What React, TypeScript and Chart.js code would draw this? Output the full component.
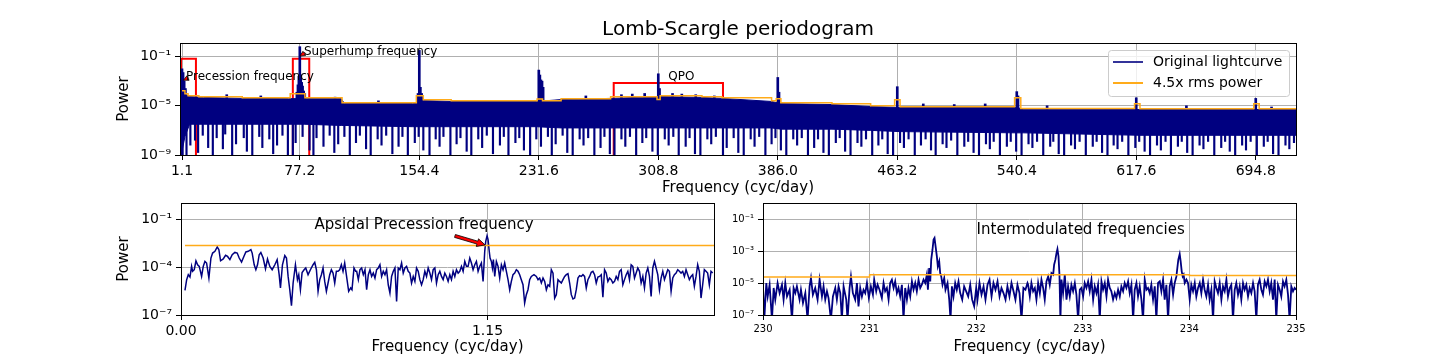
import React, { useEffect, useRef } from 'react';
import Chart from 'chart.js/auto';

const FONT = "'DejaVu Sans', 'Liberation Sans', sans-serif";
const NAVY = '#000080';
const ORANGE = '#ffab1a';
const RED = '#ff0000';
const GRID = '#b0b0b0';

Chart.defaults.font.family = FONT;
Chart.defaults.color = '#000';

// ---------------- Top panel: full periodogram ----------------
const topTitle = 'Lomb-Scargle periodogram';
const topXTicks = [1.1, 77.2, 154.4, 231.6, 308.8, 386.0, 463.2, 540.4, 617.6, 694.8];
const topXTickLabels = ['1.1', '77.2', '154.4', '231.6', '308.8', '386.0', '463.2', '540.4', '617.6', '694.8'];
const topYTicks = [1e-9, 1e-5, 1e-1];
const topYTickLabels = ['10⁻⁹', '10⁻⁵', '10⁻¹'];
const topXRange = [-0.2, 720.8];
const topYRange = [1e-9, 1.26];

// dense noise band of the periodogram: upper edge and lower (solid) edge, log10 power
const bandFreq = [-0.2, 3, 6, 15, 40, 70, 80, 104, 106, 150, 157, 175, 230, 246, 278, 310, 337, 350, 382, 388, 421, 446, 465, 540, 545, 620, 720.8];
const bandTopLog = [-3.3, -4.1, -4.25, -4.32, -4.4, -4.42, -4.42, -4.42, -4.82, -4.82, -4.58, -4.65, -4.65, -4.5, -4.4, -4.25, -4.32, -4.4, -4.65, -4.82, -4.9, -5.06, -5.14, -5.14, -5.28, -5.3, -5.3];
const bandFloorLog = [-9.5, -7.5, -6.5, -6.5, -6.5, -6.5, -6.5, -6.6, -6.6, -6.7, -6.7, -6.7, -6.7, -6.8, -6.8, -6.8, -6.8, -6.8, -6.8, -6.9, -6.9, -7.0, -7.1, -7.2, -7.2, -7.4, -7.4];

// narrow peaks rising above the band [freq, log10 power]
const topPeaks: [number, number][] = [
  [0.5, -2.4], [1.1, -2.0], [1.8, -2.3], [2.5, -3.0], [3.3, -3.6], [30, -4.1], [52, -4.2],
  [75.3, -3.9], [76.0, -3.3], [76.6, -2.6], [77.2, -0.2], [77.8, -2.5], [78.4, -3.1], [79.0, -3.4], [79.7, -3.8], [80.4, -4.0],
  [100, -4.3], [128, -4.6], [153.6, -4.0], [154.4, -0.5], [155.1, -3.5], [155.9, -4.0],
  [231.6, -2.1], [232.3, -2.5], [233.0, -2.9], [233.7, -3.0], [234.4, -3.5],
  [262, -4.2], [285, -4.1], [292, -4.05], [300, -4.0], [308.8, -2.4], [309.6, -3.6], [318, -4.0], [324, -4.05], [333, -4.1], [345, -4.2],
  [386.0, -2.7], [386.8, -3.9], [463.2, -3.45], [480, -4.85], [500, -4.9], [520, -4.85], [540.4, -3.85], [541.2, -4.2],
  [560, -5.0], [617.6, -4.35], [650, -5.0], [694.8, -4.4], [705, -5.1],
];

// deep dips below the solid band [freq, log10 power]
const topDips: [number, number][] = [
  [1.5, -9.5], [4.0, -9.3], [6.5, -8.2], [9.5, -7.8], [11.5, -8.8], [14.5, -7.4], [18.0, -8.4], [21.0, -9.2], [23.5, -7.6], [27.5, -8.5],
  [29.0, -7.3], [33.5, -9.0], [36.0, -8.1], [41.0, -7.6], [43.0, -8.7], [46.5, -9.3], [51.0, -7.5], [53.0, -8.4], [57.5, -7.7], [60.0, -8.9],
  [62.5, -8.2], [66.0, -7.4], [69.5, -9.1], [72.7, -9.5], [74.5, -8.0], [79.0, -7.5], [83.5, -8.6], [86.0, -9.3], [88.0, -7.6], [92.5, -8.3],
  [96.5, -7.4], [99.5, -8.8], [102.0, -8.1], [106.0, -7.5], [109.5, -9.2], [113.5, -8.0], [116.0, -7.4], [120.0, -8.5], [123.0, -9.4], [127.5, -7.7],
  [130.0, -8.2], [133.0, -7.4], [137.0, -8.9], [141.0, -8.3], [143.5, -7.5], [147.0, -9.3], [151.5, -8.0], [154.0, -7.5], [157.0, -8.6], [161.0, -9.1],
  [165.0, -7.7], [167.5, -8.3], [170.0, -7.5], [174.5, -9.4], [178.5, -8.1], [181.0, -7.6], [185.0, -8.7], [188.0, -9.2], [192.5, -7.7], [195.0, -8.4],
  [198.0, -7.4], [202.0, -8.9], [206.5, -8.2], [209.0, -7.5], [212.0, -9.3], [216.5, -8.0], [219.0, -7.6], [222.0, -8.6], [226.0, -9.4], [230.0, -7.7],
  [233.0, -8.3], [237.5, -7.5], [240.0, -9.0], [242.5, -8.1], [247.0, -7.4], [250.0, -8.8], [253.5, -9.5], [258.0, -7.7], [260.5, -8.2], [263.5, -7.6],
  [267.5, -9.1], [271.5, -8.4], [274.0, -7.5], [277.5, -8.9], [280.5, -9.5], [285.0, -7.7], [287.5, -8.3], [290.5, -7.5], [294.5, -9.2], [298.5, -8.0],
  [301.0, -7.6], [305.0, -8.7], [308.5, -9.4], [313.0, -7.7], [315.5, -8.2], [318.5, -7.5], [322.0, -9.0], [326.5, -8.3], [329.0, -7.6], [332.5, -8.9],
  [336.0, -9.3], [340.5, -7.7], [343.0, -8.1], [346.0, -7.5], [350.6, -9.5], [353.0, -8.4], [357.5, -7.6], [360.5, -8.8], [364.0, -9.2], [368.5, -7.7],
  [371.0, -8.3], [374.0, -7.5], [378.0, -9.0], [382.0, -8.1], [384.5, -7.6], [388.0, -8.6], [391.5, -9.4], [396.0, -7.7], [398.5, -8.2], [401.5, -7.6],
  [405.5, -9.1], [409.5, -8.4], [412.0, -7.7], [415.5, -8.8], [419.0, -9.3], [423.5, -8.0], [426.0, -7.6], [429.5, -8.7], [433.0, -9.2], [437.5, -8.0],
  [440.0, -8.3], [443.0, -7.7], [447.0, -9.0], [451.0, -8.2], [453.5, -7.7], [457.0, -8.9], [460.5, -9.4], [465.0, -8.0], [467.5, -8.4], [470.5, -7.7],
  [474.5, -9.1], [478.5, -8.2], [481.5, -7.7], [485.0, -8.6], [488.0, -9.3], [492.5, -8.1], [495.0, -8.4], [498.0, -7.8], [502.0, -9.0], [506.5, -8.3],
  [509.0, -7.9], [512.5, -8.8], [516.0, -9.4], [520.5, -8.1], [523.0, -8.5], [525.5, -7.9], [529.5, -9.2], [534.0, -8.3], [536.5, -7.9], [540.0, -8.7],
  [543.5, -9.3], [548.0, -8.1], [550.5, -8.4], [553.5, -7.9], [557.5, -9.0], [562.0, -8.3], [564.0, -7.9], [567.5, -8.9], [571.0, -9.4], [575.5, -8.2],
  [578.0, -8.5], [581.0, -7.9], [585.0, -9.1], [589.5, -8.3], [592.0, -7.9], [595.5, -8.8], [599.0, -9.3], [603.0, -8.2], [605.5, -8.5], [608.5, -7.9],
  [612.5, -9.0], [617.0, -8.4], [619.5, -7.9], [623.0, -8.7], [626.5, -9.4], [631.0, -8.2], [633.5, -8.6], [636.5, -7.9], [640.0, -9.1], [644.5, -8.3],
  [647.0, -7.9], [650.5, -8.8], [654.0, -9.3], [658.5, -8.2], [661.0, -8.5], [664.0, -7.9], [668.0, -9.0], [672.5, -8.4], [675.0, -7.9], [678.0, -8.7],
  [681.5, -9.4], [686.0, -8.2], [688.5, -8.6], [691.5, -7.9], [695.5, -9.2], [700.0, -8.3], [702.5, -7.9], [706.0, -8.9], [709.5, -9.3], [714.0, -8.2],
  [716.5, -8.5], [719.5, -8.0],
];

// 4.5x rms power threshold (stepped), log10 power
const rmsFreq = [1.1, 3, 5, 12, 40, 71, 80.5, 104.5, 152.5, 157, 175, 230.5, 234, 246, 278, 308, 310, 337, 350, 382, 385, 388, 421, 446, 461.5, 465, 539, 543, 616.5, 620, 693.5, 697, 720.8];
const rmsLog = [-3.78, -4.02, -4.19, -4.27, -4.35, -4.02, -4.35, -4.76, -4.19, -4.51, -4.59, -4.45, -4.59, -4.43, -4.27, -4.5, -4.19, -4.27, -4.35, -4.59, -4.43, -4.76, -4.84, -5.0, -4.51, -5.08, -4.35, -5.22, -4.84, -5.24, -4.84, -5.24, -5.24];

// highlighted regions (frequency range, top power)
const boxFreqStart = [0.5, 72.7, 280];
const boxFreqEnd = [10.1, 83.3, 350.6];
const boxTopPower = [0.065, 0.065, 7e-4];

const legendLabels = ['Original lightcurve', '4.5x rms power'];

// ---------------- Bottom-left: apsidal precession ----------------
const apsXTicks = [0, 1.15];
const apsXTickLabels = ['0.00', '1.15'];
const apsYTicks = [1e-7, 1e-4, 1e-1];
const apsYTickLabels = ['10⁻⁷', '10⁻⁴', '10⁻¹'];
const apsXRange = [0, 2.0];
const apsYRange = [1e-7, 1];
const apsRmsFreq = [0.015, 2.0];
const apsRmsPower = [2.24e-3, 2.24e-3];
const apsidalSpectrum: [number, number][] = [
  [0.0149, -5.46], [0.0211, -4.80], [0.0273, -4.48], [0.0336, -4.63], [0.0398, -3.96], [0.0436, -4.27], [0.0498, -4.17], [0.0561, -3.61], [0.0623, -3.86], [0.0685, -3.96],
  [0.0773, -4.59], [0.0835, -3.96], [0.0898, -3.65], [0.0960, -3.75], [0.1047, -4.69], [0.1123, -3.44], [0.1186, -3.13], [0.1273, -3.02], [0.1360, -2.75], [0.1422, -2.92],
  [0.1485, -3.61], [0.1585, -3.50], [0.1672, -3.27], [0.1747, -3.34], [0.1834, -3.54], [0.1921, -3.23], [0.2021, -3.09], [0.2109, -3.13], [0.2184, -3.44], [0.2272, -3.69],
  [0.2359, -3.34], [0.2434, -3.06], [0.2522, -3.02], [0.2622, -2.92], [0.2671, -3.13], [0.2747, -3.86], [0.2809, -4.17], [0.2871, -3.86], [0.2934, -3.23], [0.2996, -3.09],
  [0.3083, -3.44], [0.3171, -4.11], [0.3246, -3.50], [0.3333, -3.96], [0.3421, -4.17], [0.3521, -3.86], [0.3608, -3.54], [0.3683, -4.48], [0.3732, -5.31], [0.3807, -3.86],
  [0.3895, -3.29], [0.3958, -3.44], [0.4019, -4.59], [0.4082, -5.42], [0.4145, -6.42], [0.4207, -5.00], [0.4294, -3.86], [0.4369, -4.79], [0.4419, -4.48], [0.4481, -5.42],
  [0.4544, -4.34], [0.4619, -4.17], [0.4681, -4.06], [0.4768, -4.48], [0.4856, -4.17], [0.4956, -3.86], [0.5019, -3.71], [0.5081, -4.17], [0.5143, -5.52], [0.5206, -4.79],
  [0.5268, -4.48], [0.5330, -4.06], [0.5393, -4.90], [0.5455, -5.52], [0.5518, -5.00], [0.5580, -4.48], [0.5642, -4.17], [0.5705, -4.38], [0.5768, -5.00], [0.5830, -4.27],
  [0.5892, -4.27], [0.5955, -4.17], [0.6017, -3.86], [0.6080, -4.27], [0.6142, -3.75], [0.6230, -4.79], [0.6292, -5.52], [0.6367, -5.31], [0.6416, -5.42], [0.6491, -4.06],
  [0.6554, -4.27], [0.6592, -4.27], [0.6654, -4.79], [0.6716, -4.17], [0.6779, -4.06], [0.6841, -4.48], [0.6904, -4.17], [0.6966, -5.42], [0.7029, -4.48], [0.7091, -4.17],
  [0.7153, -4.59], [0.7216, -4.38], [0.7278, -4.69], [0.7341, -4.17], [0.7403, -4.06], [0.7465, -3.86], [0.7528, -4.59], [0.7590, -4.27], [0.7653, -4.48], [0.7715, -4.17],
  [0.7777, -5.11], [0.7840, -5.63], [0.7902, -4.59], [0.7965, -4.27], [0.8027, -4.06], [0.8090, -6.15], [0.8152, -4.06], [0.8214, -4.17], [0.8277, -3.75], [0.8339, -4.38],
  [0.8402, -4.06], [0.8464, -3.96], [0.8526, -4.27], [0.8589, -4.38], [0.8651, -5.00], [0.8714, -4.59], [0.8776, -4.90], [0.8838, -4.06], [0.8901, -4.27], [0.8963, -4.79],
  [0.9026, -5.11], [0.9088, -4.79], [0.9150, -4.27], [0.9213, -4.59], [0.9275, -4.06], [0.9338, -4.38], [0.9400, -4.79], [0.9463, -4.17], [0.9525, -4.06], [0.9587, -5.00],
  [0.9650, -4.48], [0.9712, -4.27], [0.9775, -4.59], [0.9837, -4.79], [0.9899, -4.38], [0.9962, -4.59], [1.0024, -4.90], [1.0087, -4.48], [1.0149, -4.79], [1.0211, -4.27],
  [1.0274, -4.59], [1.0336, -4.17], [1.0399, -4.38], [1.0461, -4.27], [1.0524, -3.96], [1.0586, -4.27], [1.0648, -3.65], [1.0711, -3.96], [1.0773, -3.96], [1.0836, -3.44],
  [1.0898, -3.75], [1.0960, -4.17], [1.1023, -3.86], [1.1085, -3.65], [1.1148, -4.27], [1.1210, -3.96], [1.1272, -3.75], [1.1335, -4.90], [1.1397, -3.02], [1.1435, -2.40],
  [1.1485, -2.04], [1.1522, -2.29], [1.1560, -2.92], [1.1597, -3.44], [1.1647, -3.65], [1.1685, -4.06], [1.1722, -3.54], [1.1772, -4.59], [1.1834, -3.65], [1.1897, -3.96],
  [1.1959, -4.69], [1.2022, -3.86], [1.2084, -4.17], [1.2146, -3.75], [1.2209, -4.27], [1.2271, -4.79], [1.2334, -5.42], [1.2396, -4.90], [1.2458, -4.48], [1.2521, -4.38],
  [1.2583, -4.17], [1.2646, -4.27], [1.2708, -4.48], [1.2770, -4.79], [1.2833, -5.11], [1.2895, -6.25], [1.2958, -5.73], [1.3020, -5.42], [1.3083, -4.79], [1.3145, -4.59],
  [1.3245, -4.48], [1.3334, -4.59], [1.3397, -4.79], [1.3459, -4.69], [1.3522, -5.00], [1.3584, -4.69], [1.3647, -4.90], [1.3709, -5.42], [1.3771, -5.11], [1.3834, -5.21],
  [1.3896, -4.17], [1.3959, -4.38], [1.4021, -5.94], [1.4083, -5.73], [1.4146, -4.79], [1.4208, -4.90], [1.4271, -5.00], [1.4333, -4.79], [1.4396, -4.59], [1.4458, -4.48],
  [1.4520, -4.42], [1.4583, -5.00], [1.4645, -5.73], [1.4708, -6.00], [1.4770, -5.94], [1.4832, -5.42], [1.4895, -4.69], [1.4957, -4.54], [1.5020, -4.59], [1.5082, -4.48],
  [1.5144, -4.59], [1.5207, -5.31], [1.5269, -4.79], [1.5332, -4.59], [1.5394, -4.33], [1.5456, -4.27], [1.5519, -4.48], [1.5581, -5.00], [1.5644, -4.63], [1.5706, -4.59],
  [1.5769, -4.48], [1.5831, -5.88], [1.5893, -4.17], [1.5956, -4.38], [1.6018, -4.90], [1.6081, -4.69], [1.6143, -4.79], [1.6205, -5.00], [1.6268, -4.90], [1.6330, -4.59],
  [1.6393, -4.79], [1.6455, -4.27], [1.6517, -4.17], [1.6580, -5.11], [1.6642, -4.79], [1.6705, -4.48], [1.6767, -4.27], [1.6829, -4.79], [1.6892, -3.86], [1.6954, -3.96],
  [1.7017, -4.69], [1.7079, -4.38], [1.7141, -4.06], [1.7204, -4.27], [1.7266, -5.00], [1.7329, -4.59], [1.7391, -5.31], [1.7454, -4.38], [1.7516, -4.06], [1.7578, -4.59],
  [1.7641, -5.84], [1.7703, -4.06], [1.7766, -3.65], [1.7828, -4.06], [1.7890, -4.48], [1.7953, -5.42], [1.8015, -4.69], [1.8078, -4.27], [1.8140, -4.79], [1.8202, -4.48],
  [1.8265, -4.17], [1.8327, -4.27], [1.8390, -5.52], [1.8452, -4.69], [1.8514, -4.48], [1.8577, -4.38], [1.8639, -4.17], [1.8702, -4.27], [1.8764, -4.38], [1.8826, -4.27],
  [1.8889, -4.59], [1.8951, -4.17], [1.9014, -4.48], [1.9076, -4.79], [1.9138, -4.59], [1.9201, -4.48], [1.9263, -5.21], [1.9326, -4.59], [1.9388, -3.86], [1.9450, -4.27],
  [1.9513, -5.94], [1.9575, -5.11], [1.9638, -4.17], [1.9700, -4.27], [1.9762, -4.38], [1.9825, -5.11], [1.9887, -4.27], [1.9950, -4.38],
];

// ---------------- Bottom-right: intermodulated frequencies ----------------
const intXTicks = [230, 231, 232, 233, 234, 235];
const intXTickLabels = ['230', '231', '232', '233', '234', '235'];
const intYTicks = [1e-7, 1e-5, 1e-3, 1e-1];
const intYTickLabels = ['10⁻⁷', '10⁻⁵', '10⁻³', '10⁻¹'];
const intXRange = [230, 235];
const intYRange = [1e-7, 1];
const intRmsFreq = [230, 231, 234, 235];
const intRmsPower = [2.37e-5, 3.3e-5, 2.9e-5, 2.9e-5];
const intermodSpectrum: [number, number][] = [
  [230.000, -5.21], [230.012, -7.3], [230.031, -5.00], [230.044, -5.84], [230.062, -5.11], [230.084, -7.3], [230.100, -5.31], [230.115, -6.04], [230.137, -5.00], [230.156, -5.63],
  [230.178, -5.11], [230.193, -6.04], [230.209, -5.00], [230.225, -5.84], [230.250, -5.42], [230.272, -7.3], [230.287, -5.31], [230.303, -5.63], [230.318, -5.21], [230.343, -6.04],
  [230.356, -5.42], [230.375, -6.25], [230.397, -5.63], [230.418, -7.3], [230.437, -5.21], [230.450, -4.69], [230.468, -5.73], [230.490, -5.31], [230.512, -6.04], [230.531, -4.79],
  [230.553, -5.84], [230.568, -5.21], [230.584, -6.04], [230.600, -5.52], [230.615, -5.94], [230.637, -7.3], [230.656, -5.84], [230.678, -5.31], [230.693, -6.04], [230.709, -5.21],
  [230.725, -5.63], [230.740, -7.3], [230.756, -5.21], [230.781, -6.04], [230.793, -7.3], [230.812, -5.31], [230.825, -4.59], [230.843, -5.63], [230.865, -6.04], [230.881, -5.00],
  [230.896, -6.46], [230.912, -5.31], [230.928, -5.84], [230.943, -5.42], [230.959, -5.63], [230.975, -5.00], [230.993, -5.94], [231.012, -5.21], [231.031, -5.73], [231.043, -4.79],
  [231.062, -5.52], [231.075, -5.11], [231.093, -5.42], [231.115, -5.94], [231.131, -5.00], [231.146, -5.52], [231.162, -5.31], [231.178, -6.04], [231.193, -5.00], [231.209, -4.79],
  [231.225, -5.31], [231.240, -4.90], [231.256, -5.63], [231.271, -5.31], [231.287, -5.84], [231.303, -5.11], [231.318, -7.3], [231.334, -5.31], [231.350, -6.04], [231.365, -5.31],
  [231.381, -5.84], [231.397, -4.90], [231.412, -5.42], [231.428, -5.00], [231.443, -5.52], [231.459, -4.79], [231.475, -5.31], [231.490, -5.11], [231.506, -4.79], [231.522, -5.00],
  [231.537, -4.48], [231.547, -5.42], [231.559, -4.06], [231.569, -4.90], [231.578, -3.54], [231.590, -2.92], [231.600, -2.29], [231.609, -2.19], [231.619, -2.71], [231.631, -3.34],
  [231.640, -3.96], [231.653, -3.65], [231.662, -4.38], [231.672, -4.59], [231.684, -5.11], [231.700, -4.69], [231.712, -5.42], [231.731, -5.00], [231.747, -6.04], [231.759, -7.3],
  [231.772, -5.21], [231.787, -5.84], [231.803, -5.00], [231.818, -5.42], [231.834, -4.90], [231.850, -5.63], [231.869, -6.04], [231.887, -5.21], [231.906, -5.52], [231.925, -5.84],
  [231.944, -5.11], [231.962, -6.04], [231.981, -6.46], [232.000, -5.31], [232.012, -6.04], [232.031, -5.00], [232.050, -5.73], [232.069, -5.21], [232.087, -6.04], [232.106, -5.11],
  [232.125, -4.79], [232.144, -5.84], [232.162, -5.00], [232.181, -5.42], [232.200, -4.90], [232.219, -5.84], [232.237, -5.31], [232.256, -5.63], [232.275, -6.04], [232.293, -5.21],
  [232.312, -5.84], [232.331, -5.00], [232.350, -5.52], [232.368, -6.04], [232.387, -5.11], [232.406, -5.63], [232.425, -7.3], [232.443, -5.31], [232.462, -5.42], [232.481, -5.00],
  [232.487, -5.11], [232.503, -5.84], [232.518, -5.00], [232.534, -5.52], [232.550, -5.31], [232.565, -6.04], [232.581, -5.00], [232.597, -5.63], [232.612, -4.79], [232.628, -5.31],
  [232.643, -6.04], [232.659, -4.90], [232.675, -4.59], [232.690, -5.11], [232.706, -4.38], [232.722, -4.48], [232.731, -3.86], [232.743, -3.54], [232.753, -3.13], [232.762, -2.88],
  [232.772, -3.34], [232.781, -4.48], [232.790, -7.3], [232.800, -4.79], [232.815, -5.63], [232.831, -4.48], [232.847, -6.04], [232.862, -5.21], [232.878, -5.84], [232.893, -5.11],
  [232.909, -5.52], [232.925, -5.00], [232.940, -5.73], [232.956, -7.3], [232.972, -5.42], [232.987, -5.31], [233.003, -5.84], [233.018, -5.00], [233.034, -5.31], [233.050, -4.90],
  [233.065, -5.52], [233.081, -4.79], [233.097, -6.04], [233.112, -5.21], [233.128, -5.63], [233.143, -5.11], [233.159, -7.3], [233.175, -4.90], [233.190, -5.42], [233.206, -5.00],
  [233.222, -5.84], [233.237, -4.79], [233.253, -5.31], [233.268, -5.52], [233.284, -6.04], [233.300, -5.63], [233.315, -5.94], [233.331, -5.42], [233.347, -5.84], [233.362, -5.21],
  [233.378, -5.52], [233.393, -5.00], [233.409, -5.31], [233.425, -4.90], [233.440, -5.63], [233.456, -5.11], [233.472, -7.3], [233.487, -5.42], [233.503, -5.00], [233.518, -5.84],
  [233.534, -5.21], [233.550, -6.04], [233.565, -7.3], [233.581, -4.79], [233.597, -5.42], [233.612, -5.31], [233.628, -5.63], [233.643, -5.11], [233.659, -6.04], [233.675, -5.21],
  [233.690, -7.3], [233.706, -5.00], [233.722, -4.90], [233.737, -5.52], [233.753, -4.79], [233.768, -6.04], [233.784, -5.11], [233.800, -7.3], [233.815, -5.21], [233.831, -4.79],
  [233.847, -5.73], [233.862, -5.00], [233.878, -4.59], [233.887, -4.06], [233.896, -3.54], [233.909, -3.19], [233.918, -3.65], [233.928, -4.27], [233.937, -4.59], [233.946, -4.48],
  [233.956, -5.00], [233.972, -4.79], [233.987, -5.00], [234.003, -6.04], [234.018, -5.11], [234.034, -5.52], [234.050, -5.00], [234.065, -5.84], [234.081, -5.31], [234.097, -5.00],
  [234.112, -5.63], [234.128, -4.79], [234.143, -5.42], [234.159, -5.84], [234.175, -5.11], [234.190, -6.04], [234.206, -5.42], [234.222, -7.3], [234.237, -4.90], [234.253, -5.31],
  [234.268, -5.63], [234.284, -5.00], [234.300, -6.04], [234.315, -5.21], [234.331, -5.52], [234.347, -4.79], [234.362, -5.84], [234.378, -5.31], [234.393, -5.11], [234.409, -7.3],
  [234.425, -5.42], [234.440, -5.00], [234.456, -5.73], [234.472, -5.21], [234.487, -6.04], [234.503, -5.00], [234.518, -5.42], [234.534, -5.11], [234.550, -5.84], [234.565, -5.31],
  [234.581, -5.63], [234.597, -5.00], [234.612, -5.52], [234.628, -7.3], [234.643, -5.11], [234.659, -4.79], [234.675, -5.42], [234.690, -5.73], [234.706, -4.90], [234.722, -5.21],
  [234.737, -4.79], [234.753, -5.52], [234.768, -5.00], [234.784, -6.04], [234.800, -4.79], [234.815, -7.3], [234.831, -5.11], [234.847, -5.42], [234.862, -5.84], [234.878, -4.90],
  [234.893, -5.21], [234.909, -4.79], [234.925, -5.73], [234.940, -7.3], [234.956, -5.21], [234.972, -5.52], [234.987, -5.31], [235.000, -5.42],
];

// ---------------- helpers ----------------
const p10 = (v: number) => Math.pow(10, v);
const BAR_BASE = 1e-6;

function xScale(range: number[], ticks: number[], labels: string[], size: number, title: string | null, titlePad: number) {
  return {
    type: 'linear', min: range[0], max: range[1], bounds: 'data', offset: false,
    afterBuildTicks: (s: any) => { s.ticks = ticks.map((v) => ({ value: v })); },
    afterFit: (s: any) => { s.height = 45; },
    ticks: { autoSkip: false, maxRotation: 0, minRotation: 0, padding: 3, color: '#000', font: { family: FONT, size }, callback: (_v: any, i: number) => labels[i] },
    grid: { color: GRID, lineWidth: 1, tickColor: '#000', tickLength: 5, offset: false, drawTicks: true },
    border: { display: false },
    title: { display: !!title, text: title || '', color: '#000', font: { family: FONT, size: 15 }, padding: { top: 0, bottom: titlePad } },
  };
}

function yScale(range: number[], ticks: number[], labels: string[], size: number, width: number, title: string | null, titlePad: number) {
  return {
    type: 'logarithmic', min: range[0], max: range[1], bounds: 'data',
    afterBuildTicks: (s: any) => { s.ticks = ticks.map((v) => ({ value: v })); },
    afterFit: (s: any) => { s.width = width; },
    ticks: { autoSkip: false, padding: 4, color: '#000', font: { family: FONT, size }, callback: (_v: any, i: number) => labels[i] },
    grid: { color: GRID, lineWidth: 1, tickColor: '#000', tickLength: 5, drawTicks: true },
    border: { display: false },
    title: { display: !!title, text: title || '', color: '#000', font: { family: FONT, size: 15 }, padding: { top: titlePad, bottom: 0 } },
  };
}

function drawFrame(chart: any) {
  const { ctx, chartArea: a } = chart;
  ctx.save();
  ctx.strokeStyle = '#000';
  ctx.lineWidth = 1;
  ctx.strokeRect(Math.round(a.left) + 0.5, Math.round(a.top) + 0.5, Math.round(a.right - a.left), Math.round(a.bottom - a.top));
  ctx.restore();
}

function drawText(ctx: any, s: string, x: number, y: number, size: number, align: string) {
  ctx.save();
  ctx.font = `${size}px ${FONT}`;
  ctx.fillStyle = '#000';
  ctx.textAlign = align;
  ctx.textBaseline = 'middle';
  ctx.fillText(s, x, y);
  ctx.restore();
}

function drawArrow(ctx: any, x1: number, y1: number, x2: number, y2: number, shaft: number, headW: number, headL: number) {
  const dx = x2 - x1, dy = y2 - y1;
  const len = Math.hypot(dx, dy) || 1;
  const ux = dx / len, uy = dy / len;
  const px = -uy, py = ux;
  const bx = x2 - ux * headL, by = y2 - uy * headL;
  ctx.save();
  ctx.beginPath();
  ctx.moveTo(x1 + px * shaft / 2, y1 + py * shaft / 2);
  ctx.lineTo(bx + px * shaft / 2, by + py * shaft / 2);
  ctx.lineTo(bx + px * headW / 2, by + py * headW / 2);
  ctx.lineTo(x2, y2);
  ctx.lineTo(bx - px * headW / 2, by - py * headW / 2);
  ctx.lineTo(bx - px * shaft / 2, by - py * shaft / 2);
  ctx.lineTo(x1 - px * shaft / 2, y1 - py * shaft / 2);
  ctx.closePath();
  ctx.fillStyle = RED;
  ctx.fill();
  ctx.strokeStyle = '#000';
  ctx.lineWidth = 0.8;
  ctx.stroke();
  ctx.restore();
}

const baseOptions = {
  responsive: false,
  animation: false,
  devicePixelRatio: 1,
  events: [] as string[],
  plugins: { legend: { display: false }, tooltip: { enabled: false } },
};

function topConfig(): any {
  const pts = (f: number[], l: number[]) => f.map((x, i) => ({ x, y: p10(l[i]) }));
  const boxes = boxFreqStart.map((s, i) => ({
    type: 'line',
    data: [{ x: s, y: topYRange[0] }, { x: s, y: boxTopPower[i] }, { x: boxFreqEnd[i], y: boxTopPower[i] }, { x: boxFreqEnd[i], y: topYRange[0] }],
    borderColor: RED, borderWidth: 2, pointRadius: 0, fill: false, order: 9, clip: 0,
  }));
  return {
    type: 'line',
    data: {
      datasets: [
        ...boxes,
        { type: 'line', label: 'band', data: pts(bandFreq, bandTopLog), borderColor: NAVY, backgroundColor: NAVY, borderWidth: 1, pointRadius: 0, fill: '+1', order: 4, clip: 0 },
        { type: 'line', label: 'floor', data: pts(bandFreq, bandFloorLog), borderColor: NAVY, borderWidth: 1, pointRadius: 0, fill: false, order: 4, clip: 0 },
        { type: 'bar', label: 'dips', data: topDips.map(([f, l]) => ({ x: f, y: [BAR_BASE, p10(l)] })), backgroundColor: NAVY, borderWidth: 0, barThickness: 1.5, grouped: false, order: 3, clip: 0 },
        { type: 'bar', label: 'peaks', data: topPeaks.map(([f, l]) => ({ x: f, y: [BAR_BASE, p10(l)] })), backgroundColor: NAVY, borderWidth: 0, barThickness: 2, grouped: false, order: 2, clip: 0 },
        { type: 'line', label: legendLabels[1], data: pts(rmsFreq, rmsLog), borderColor: ORANGE, borderWidth: 1.5, pointRadius: 0, stepped: true, fill: false, order: 1, clip: 0 },
      ],
    },
    options: {
      ...baseOptions,
      layout: { padding: { left: 100, right: 144, top: 43, bottom: 0 } },
      scales: {
        x: xScale(topXRange, topXTicks, topXTickLabels, 14, 'Frequency (cyc/day)', 3),
        y: yScale(topYRange, topYTicks, topYTickLabels, 14, 80, 'Power', 15),
      },
    },
    plugins: [{
      id: 'topDecor',
      afterDraw(chart: any) {
        const { ctx, chartArea: a, scales: { x, y } } = chart;
        drawFrame(chart);
        drawText(ctx, topTitle, (a.left + a.right) / 2, 30, 20, 'center');
        // annotations
        drawArrow(ctx, x.getPixelForValue(5.0), y.getPixelForValue(1.8e-3), x.getPixelForValue(2.06), y.getPixelForValue(1.2e-3), 1.2, 5, 5);
        drawText(ctx, 'Precession frequency', x.getPixelForValue(3.7), y.getPixelForValue(2.2e-3), 12, 'left');
        drawArrow(ctx, x.getPixelForValue(80.6), y.getPixelForValue(0.195), x.getPixelForValue(77.3), y.getPixelForValue(0.11), 1.2, 5, 5);
        drawText(ctx, 'Superhump frequency', x.getPixelForValue(79.9), y.getPixelForValue(0.234), 12, 'left');
        drawText(ctx, 'QPO', x.getPixelForValue(323.7), y.getPixelForValue(2.2e-3), 12, 'center');
        // legend
        const lw = 181, lh = 46;
        const lx = a.right - 7 - lw, ly = a.top + 7;
        ctx.save();
        ctx.beginPath();
        if (ctx.roundRect) ctx.roundRect(lx + 0.5, ly + 0.5, lw, lh, 3); else ctx.rect(lx + 0.5, ly + 0.5, lw, lh);
        ctx.fillStyle = 'rgba(255,255,255,0.8)';
        ctx.fill();
        ctx.strokeStyle = '#cccccc';
        ctx.lineWidth = 1;
        ctx.stroke();
        const rows = [[NAVY, legendLabels[0]], [ORANGE, legendLabels[1]]];
        rows.forEach(([c, t], i) => {
          const yy = ly + 12 + i * 21;
          ctx.beginPath();
          ctx.moveTo(lx + 5, yy);
          ctx.lineTo(lx + 35, yy);
          ctx.strokeStyle = i === 0 ? 'rgba(0,0,128,0.8)' : c;
          ctx.lineWidth = 2;
          ctx.stroke();
          drawText(ctx, t, lx + 45, yy, 14, 'left');
        });
        ctx.restore();
      },
    }],
  };
}

function apsConfig(): any {
  return {
    type: 'line',
    data: {
      datasets: [
        { type: 'line', label: 'spectrum', data: apsidalSpectrum.map(([f, l]) => ({ x: f, y: p10(l) })), borderColor: NAVY, borderWidth: 1.5, pointRadius: 0, fill: false, order: 2, clip: 0 },
        { type: 'line', label: 'rms', data: apsRmsFreq.map((f, i) => ({ x: f, y: apsRmsPower[i] })), borderColor: ORANGE, borderWidth: 1.5, pointRadius: 0, fill: false, order: 1, clip: 0 },
      ],
    },
    options: {
      ...baseOptions,
      layout: { padding: { left: 100, right: 26, top: 23, bottom: 0 } },
      scales: {
        x: xScale(apsXRange, apsXTicks, apsXTickLabels, 14, 'Frequency (cyc/day)', 4),
        y: yScale(apsYRange, apsYTicks, apsYTickLabels, 14, 81, 'Power', 15),
      },
    },
    plugins: [{
      id: 'apsDecor',
      afterDraw(chart: any) {
        const { ctx, scales: { x, y } } = chart;
        drawFrame(chart);
        drawText(ctx, 'Apsidal Precession frequency', x.getPixelForValue(0.912), y.getPixelForValue(0.042), 15, 'center');
        drawArrow(ctx, x.getPixelForValue(1.028), y.getPixelForValue(8.7e-3), x.getPixelForValue(1.141), y.getPixelForValue(2.4e-3), 3, 8, 8);
      },
    }],
  };
}

function intConfig(): any {
  return {
    type: 'line',
    data: {
      datasets: [
        { type: 'line', label: 'spectrum', data: intermodSpectrum.map(([f, l]) => ({ x: f, y: p10(l) })), borderColor: NAVY, borderWidth: 1.8, pointRadius: 0, fill: false, order: 2, clip: 0 },
        { type: 'line', label: 'rms', data: intRmsFreq.map((f, i) => ({ x: f, y: intRmsPower[i] })), borderColor: ORANGE, borderWidth: 1.5, pointRadius: 0, stepped: true, fill: false, order: 1, clip: 0 },
      ],
    },
    options: {
      ...baseOptions,
      layout: { padding: { left: 13, right: 144, top: 23, bottom: 0 } },
      scales: {
        x: xScale(intXRange, intXTicks, intXTickLabels, 10, 'Frequency (cyc/day)', 4),
        y: yScale(intYRange, intYTicks, intYTickLabels, 10, 50, null, 0),
      },
    },
    plugins: [{
      id: 'intDecor',
      afterDraw(chart: any) {
        const { ctx, scales: { x, y } } = chart;
        drawFrame(chart);
        drawText(ctx, 'Intermodulated frequencies', x.getPixelForValue(232.98), y.getPixelForValue(0.0205), 15, 'center');
      },
    }],
  };
}

export default function App() {
  const topRef = useRef<HTMLCanvasElement>(null);
  const apsRef = useRef<HTMLCanvasElement>(null);
  const intRef = useRef<HTMLCanvasElement>(null);

  useEffect(() => {
    const charts = [
      new Chart(topRef.current as HTMLCanvasElement, topConfig()),
      new Chart(apsRef.current as HTMLCanvasElement, apsConfig()),
      new Chart(intRef.current as HTMLCanvasElement, intConfig()),
    ];
    return () => charts.forEach((c) => c.destroy());
  }, []);

  return (
    <div style={{ position: 'absolute', left: 0, top: 0, width: 1440, height: 360, background: '#fff', overflow: 'hidden' }}>
      <canvas ref={topRef} width={1440} height={200} style={{ position: 'absolute', left: 0, top: 0, width: 1440, height: 200 }} />
      <canvas ref={apsRef} width={740} height={180} style={{ position: 'absolute', left: 0, top: 180, width: 740, height: 180 }} />
      <canvas ref={intRef} width={740} height={180} style={{ position: 'absolute', left: 700, top: 180, width: 740, height: 180 }} />
    </div>
  );
}
